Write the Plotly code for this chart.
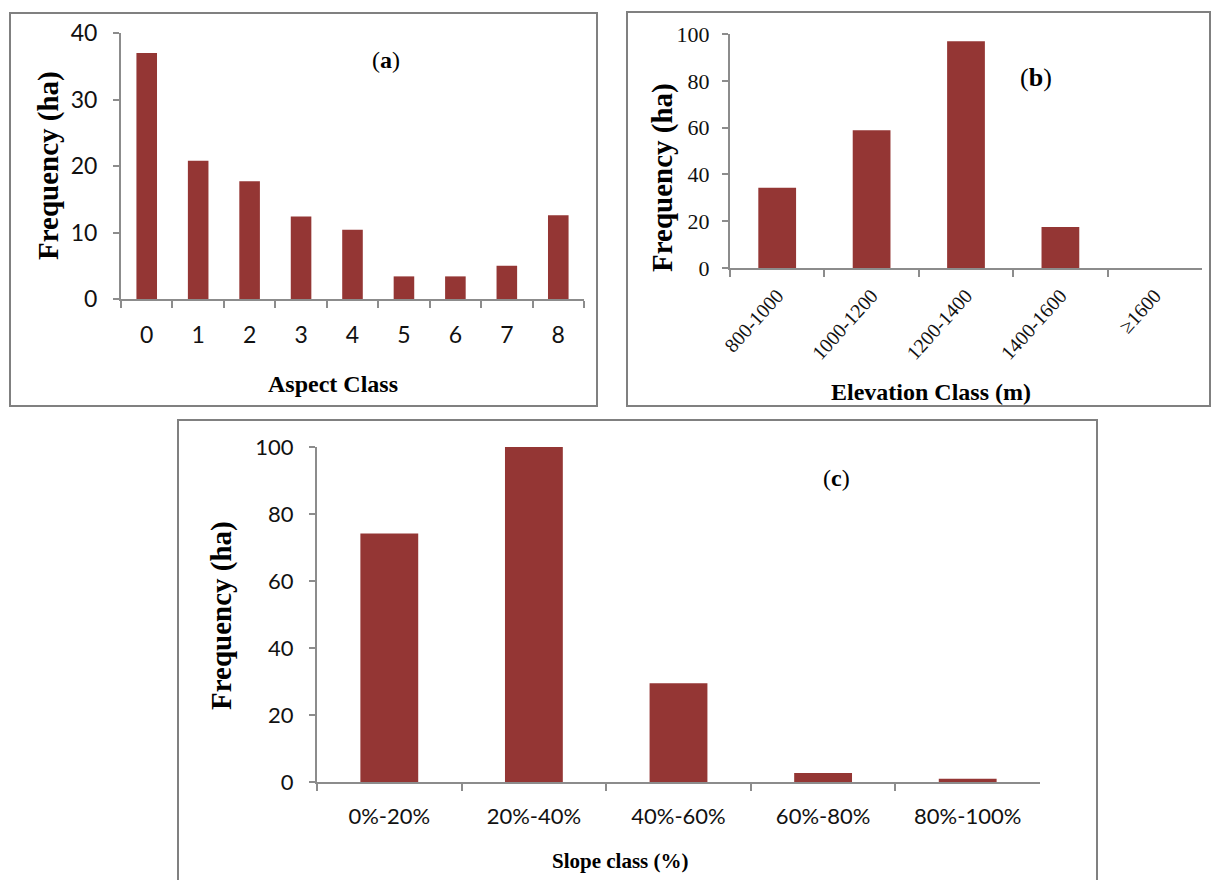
import plotly.graph_objects as go

W, H = 1215, 880

# Panel (a): aspect classes
aspect_classes = ["0", "1", "2", "3", "4", "5", "6", "7", "8"]
aspect_freq = [37.0, 20.8, 17.7, 12.4, 10.4, 3.4, 3.4, 5.0, 12.6]
aspect_ticks = [0, 10, 20, 30, 40]

# Panel (b): elevation classes
elev_classes = ["800-1000", "1000-1200", "1200-1400", "1400-1600", "≥1600"]
elev_freq = [34.3, 58.9, 96.9, 17.5, 0.0]
elev_ticks = [0, 20, 40, 60, 80, 100]

# Panel (c): slope classes
slope_classes = ["0%-20%", "20%-40%", "40%-60%", "60%-80%", "80%-100%"]
slope_freq = [74.2, 100.0, 29.5, 2.7, 1.0]
slope_ticks = [0, 20, 40, 60, 80, 100]

BAR = "#943634"
AXC = "#8c8c8c"
BORDER = "#808080"
SERIF = "Liberation Serif, Times New Roman, serif"
SANS = "Lato, Carlito, Calibri, sans-serif"


def fx(px):
    return px / W


def fy(py):
    return 1 - py / H


fig = go.Figure()
fig.add_trace(go.Bar(x=aspect_classes, y=aspect_freq, marker_color=BAR,
                     marker_line_width=0, xaxis="x", yaxis="y"))
fig.add_trace(go.Bar(x=elev_classes, y=elev_freq, marker_color=BAR,
                     marker_line_width=0, xaxis="x2", yaxis="y2"))
fig.add_trace(go.Bar(x=slope_classes, y=slope_freq, marker_color=BAR,
                     marker_line_width=0, xaxis="x3", yaxis="y3"))


def xax(domain, anchor, font, angle=0, standoff=10):
    return dict(domain=domain, anchor=anchor, type="category",
                tickson="boundaries", ticks="outside", ticklen=7,
                tickcolor=AXC, tickwidth=2, showline=True, linecolor=AXC,
                linewidth=2, showgrid=False, zeroline=False,
                tickfont=font, tickangle=angle, ticklabelstandoff=standoff,
                automargin=False, fixedrange=True)


def yax(domain, anchor, rng, tickvals, font, standoff=10):
    return dict(domain=domain, anchor=anchor, range=rng, tickvals=tickvals,
                ticks="outside", ticklen=6, tickcolor=AXC, tickwidth=2,
                showline=True, linecolor=AXC, linewidth=2, showgrid=False,
                zeroline=False, tickfont=font, ticklabelstandoff=standoff,
                automargin=False, fixedrange=True)


fig.update_layout(
    width=W, height=H, margin=dict(l=0, r=0, t=0, b=0, pad=0),
    paper_bgcolor="white", plot_bgcolor="white", showlegend=False,
    bargap=0.6,
    xaxis=xax([fx(121), fx(584)], "y", dict(family=SANS, size=23, color="#111"),
              standoff=14),
    yaxis=yax([fy(299), fy(33)], "x", [0, 40], aspect_ticks,
              dict(family=SANS, size=23, color="#111"), standoff=11),
    xaxis2=xax([fx(730), fx(1202)], "y2", dict(family=SERIF, size=20, color="#111"),
               angle=-48, standoff=6),
    yaxis2=yax([fy(268), fy(34)], "x2", [0, 100], elev_ticks,
               dict(family=SERIF, size=22, color="#111"), standoff=8),
    xaxis3=xax([fx(317), fx(1040)], "y3", dict(family=SANS, size=22, color="#111"),
               standoff=14),
    yaxis3=yax([fy(782), fy(447)], "x3", [0, 100], slope_ticks,
               dict(family=SANS, size=22, color="#111"), standoff=11),
)

# Panel frames
for x0, x1, y0, y1 in [(10, 597, 13, 406), (627, 1210, 12, 406), (178, 1097, 420, 886)]:
    fig.add_shape(type="rect", xref="paper", yref="paper",
                  x0=fx(x0), x1=fx(x1), y0=fy(y1), y1=fy(y0),
                  line=dict(color=BORDER, width=2), fillcolor="rgba(0,0,0,0)")


def label(text, px, py, size, angle=0):
    fig.add_annotation(text=text, x=fx(px), y=fy(py), xref="paper", yref="paper",
                       showarrow=False, textangle=angle,
                       font=dict(family=SERIF, size=size, color="#000"),
                       xanchor="center", yanchor="middle")


# Axis titles and panel letters
label("<b>Frequency (ha)</b>", 49, 166, 29, angle=-90)
label("<b>Aspect Class</b>", 333, 384, 24)
label("(<b>a</b>)", 386, 60, 24)

label("<b>Frequency (ha)</b>", 662, 178, 29, angle=-90)
label("<b>Elevation Class (m)</b>", 931, 392, 24)
label("(<b>b</b>)", 1036, 78, 26)

label("<b>Frequency (ha)</b>", 221, 615, 29, angle=-90)
label("<b>Slope class (%)</b>", 620, 861, 21)
label("(<b>c</b>)", 836, 478, 24)

fig.write_html("out.html")
